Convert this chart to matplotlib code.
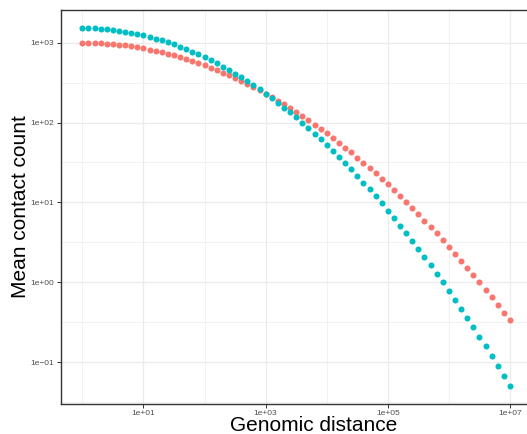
import matplotlib
matplotlib.use("Agg")
import matplotlib.pyplot as plt
import numpy as np
from matplotlib.ticker import FixedLocator, NullFormatter

# Genomic distance: 10^0 .. 10^7 in steps of 0.1 decade
distance_exponent = [i / 10 for i in range(71)]

red_counts = [
    1000, 998, 993.5, 985.4, 974.2, 960.0, 942.9, 923.0, 900.7, 876.1,
    849.2, 820.5, 790.2, 758.6, 725.8, 692.2, 658.0, 623.4, 588.8, 554.2,
    520.0, 486.3, 453.3, 421.1, 390.0, 359.9, 331.2, 303.7, 277.5, 252.8,
    229.6, 207.8, 187.5, 168.6, 151.1, 134.9, 120.2, 106.7, 94.4, 83.2,
    73.1, 64.0, 55.9, 48.7, 42.2, 36.5, 31.5, 27.0, 23.1, 19.7,
    16.8, 14.2, 12.0, 10.1, 8.51, 7.12, 5.93, 4.93, 4.09, 3.38,
    2.78, 2.28, 1.87, 1.52, 1.24, 1.00, 0.808, 0.650, 0.521, 0.417,
    0.332,
]

blue_counts = [
    1528, 1525, 1515, 1500, 1477.5, 1449.9, 1416.6, 1378.6, 1335.8, 1288.8,
    1238.2, 1184.2, 1128.1, 1070.2, 1011.0, 950.9, 890.7, 830.6, 772.0, 714.0,
    657.8, 603.3, 551.0, 501.2, 454.0, 409.5, 367.8, 328.9, 292.9, 259.7,
    229.3, 201.7, 176.6, 154.0, 133.8, 115.7, 99.6, 85.4, 72.9, 62.0,
    52.5, 44.3, 37.1, 31.1, 25.9, 21.4, 17.7, 14.6, 11.9, 9.71,
    7.88, 6.37, 5.13, 4.11, 3.28, 2.61, 2.06, 1.63, 1.28, 0.998,
    0.777, 0.602, 0.464, 0.357, 0.273, 0.208, 0.158, 0.119, 0.0898, 0.0673,
    0.0502,
]

x_breaks = [1e1, 1e3, 1e5, 1e7]
x_labels = ["1e+01", "1e+03", "1e+05", "1e+07"]
y_breaks = [1e-1, 1e0, 1e1, 1e2, 1e3]
y_labels = ["1e\u221201", "1e+00", "1e+01", "1e+02", "1e+03"]

RED = "#F8766D"
BLUE = "#00BFC4"

plt.rcParams['font.family'] = ['Liberation Sans', 'DejaVu Sans']

distance = [10 ** e for e in distance_exponent]

W, H = 527, 434
fig = plt.figure(figsize=(W / 100, H / 100), dpi=100)
left, right, top, bottom = 61, 531.4, 10.1, 403.9
ax = fig.add_axes([left / W, (H - bottom) / H, (right - left) / W, (bottom - top) / H])

ax.scatter(distance, red_counts, s=19, color=RED, linewidths=0, zorder=3)
ax.scatter(distance, blue_counts, s=19, color=BLUE, linewidths=0, zorder=3)

ax.set_xscale('log')
ax.set_yscale('log')

# ggplot-style 5% expansion on log scale
xl = np.log10([min(distance), max(distance)])
xr = xl[1] - xl[0]
ax.set_xlim(10 ** (xl[0] - 0.05 * xr), 10 ** (xl[1] + 0.05 * xr))
allv = np.log10(red_counts + blue_counts)
yl = [allv.min(), allv.max()]
yr = yl[1] - yl[0]
ax.set_ylim(10 ** (yl[0] - 0.05 * yr), 10 ** (yl[1] + 0.05 * yr))

ax.xaxis.set_major_locator(FixedLocator(x_breaks))
ax.set_xticklabels(x_labels)
ax.xaxis.set_minor_locator(FixedLocator([1e0, 1e2, 1e4, 1e6]))
ax.xaxis.set_minor_formatter(NullFormatter())
ax.yaxis.set_major_locator(FixedLocator(y_breaks))
ax.set_yticklabels(y_labels)
ax.yaxis.set_minor_locator(FixedLocator([10 ** (k + 0.5) for k in range(-2, 4)]))
ax.yaxis.set_minor_formatter(NullFormatter())

ax.grid(which='major', color='#EBEBEB', linewidth=0.9, zorder=0)
ax.grid(which='minor', color='#EBEBEB', linewidth=0.5, zorder=0)
ax.set_axisbelow(True)

ax.tick_params(which='major', length=3, width=0.7, color='#333333', labelsize=6,
               labelcolor='#4D4D4D', pad=2)
ax.tick_params(axis='x', which='major', pad=1.5)
ax.tick_params(which='minor', length=0)

for s in ax.spines.values():
    s.set_color('#333333')
    s.set_linewidth(1.0)

fig.text(313.5 / W, (H - 431) / H, "Genomic distance", fontsize=15, color='black',
         ha='center', va='baseline')
fig.text(21 / W, (H - 207) / H, "Mean contact count", fontsize=15, color='black',
         ha='center', va='center', rotation=90)

fig.savefig("out.png", dpi=100)
